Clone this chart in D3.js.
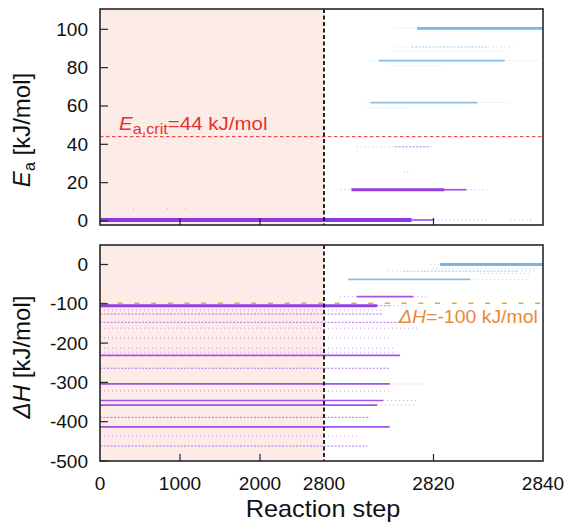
<!DOCTYPE html>
<html><head><meta charset="utf-8">
<script src="https://cdn.jsdelivr.net/npm/d3@7"></script>
<style>
body{margin:0;background:#fff}
text{font-family:"Liberation Sans",Arial,Helvetica,sans-serif}
</style>
</head><body><svg id="c" width="568" height="524"></svg>
<script>
// ---------------- data ----------------
const xBreaks = [0, 2800, 2840];            // broken x axis: 0..2800 compressed, 2800..2840 expanded
const xTicks = [0, 1000, 2000, 2800, 2820, 2840];
const xInnerTicks = [1000, 2000, 2820];
const eaTicks = [0, 20, 40, 60, 80, 100];
const dhTicks = [0, -100, -200, -300, -400, -500];
const eaCrit = 44;
const dhCrit = -100;
const shadeEnd = 2800;

// bands of reaction events: [level, startStep, endStep, density (0 sparse .. 4 very dense)]
const eaPurple = [
  [0.5, 0, 2816, 4], [0.5, 2816, 2820, 2], [0.5, 2820, 2830, 0], [0.5, 2834, 2838, 0],
  [16.3, 2803, 2805, 0], [16.3, 2805, 2822, 3], [16.3, 2822, 2826, 2], [16.3, 2826, 2830, 0],
  [25.7, 2814.5, 2815.8, 0],
  [38.7, 2806, 2813, 0], [38.7, 2813, 2819.5, 1]
];
const eaBlue = [
  [100.5, 2813, 2817, 0], [100.5, 2817, 2840, 3],
  [90.8, 2813, 2816, 0], [90.8, 2816, 2830, 1], [90.8, 2830, 2834.5, 0],
  [88.7, 2813, 2834, 0],
  [83.7, 2808.4, 2810, 0], [83.7, 2810, 2833, 2], [83.7, 2833, 2839.5, 0],
  [80.9, 2812, 2822, 0],
  [61.8, 2807.5, 2808.5, 0], [61.8, 2808.5, 2828, 2], [61.8, 2828, 2834, 0],
  [58.8, 2807.5, 2815, 0]
];
const eaDots = [[412, 6.3], [837, 6.6], [1062, 6.9]];

const dhPurple = [
  [-105, 0, 2809.7, 3], [-105, 2809.7, 2812, 1], [-105, 2812, 2815, 0],
  [-82, 2802.9, 2806, 0], [-82, 2806, 2816.3, 2], [-82, 2816.3, 2818.8, 0],
  [-116, 0, 2811, 0],
  [-126, 0, 2810.8, 1],
  [-147, 0, 2813.9, 1],
  [-162, 0, 2817, 0],
  [-187, 0, 2812, 0],
  [-213, 0, 2813, 0],
  [-223, 0, 2813, 0],
  [-231, 0, 2813.9, 2],
  [-264, 0, 2812, 1],
  [-304, 0, 2812, 2], [-304, 2812, 2818.1, 0],
  [-322, 0, 2812, 0],
  [-346, 0, 2810.8, 2], [-346, 2810.8, 2817.2, 0],
  [-358, 0, 2809.7, 2], [-358, 2809.7, 2817, 0],
  [-389, 0, 2808.4, 1],
  [-413, 0, 2812, 2],
  [-437, 0, 2806, 0],
  [-462, 0, 2807.9, 1]
];
const dhBlue = [
  [0, 2819.4, 2821.2, 0], [0, 2821.2, 2840, 3],
  [-11, 2819.9, 2840, 0],
  [-17, 2811.7, 2814.4, 0], [-17, 2814.4, 2835.3, 1], [-17, 2835.3, 2838.9, 0],
  [-24, 2828.5, 2837.6, 0],
  [-38, 2804.4, 2826.7, 2], [-38, 2826.7, 2837.6, 0]
];

// ---------------- layout ----------------
const svg = d3.select("#c");
const L = 100, R = 543;
const colors = {purple: "#8a2be2", blue: "#6aaee2", shade: "#fdebe8", frame: "#262626",
                red: "#e5332a", orangeLine: "#f2a33a", orangeText: "#e88a3a"};
const x = d3.scaleLinear().domain(xBreaks).range([L, 324, R]);

const panels = [
  {top: 9, bottom: 225, domain: [-2.1, 110.6], ticks: eaTicks, purple: eaPurple, blue: eaBlue, dots: eaDots},
  {top: 245, bottom: 461, domain: [-500, 49.6], ticks: dhTicks, purple: dhPurple, blue: dhBlue, dots: []}
];
panels.forEach(p => { p.y = d3.scaleLinear().domain(p.domain).range([p.bottom, p.top]); });

const densityStyle = [
  {w: 1, op: 0.45, dash: "1,3"},
  {w: 1, op: 0.65, dash: "2,1.5"},
  {w: 1.7, op: 0.8, dash: null},
  {w: 2.8, op: 0.9, dash: null},
  {w: 3.8, op: 0.95, dash: null}
];

panels.forEach((p, i) => {
  const g = svg.append("g");
  const clipId = "clip" + i;
  svg.append("clipPath").attr("id", clipId).append("rect")
    .attr("x", L).attr("y", p.top).attr("width", R - L).attr("height", p.bottom - p.top);
  // shaded region
  g.append("rect").attr("x", x(0)).attr("y", p.top)
    .attr("width", x(shadeEnd) - x(0)).attr("height", p.bottom - p.top).attr("fill", colors.shade);
  const data = g.append("g").attr("clip-path", `url(#${clipId})`);
  const drawBands = (bands, color) => {
    data.selectAll(null).data(bands).enter().append("line")
      .attr("x1", d => x(d[1])).attr("x2", d => x(d[2]))
      .attr("y1", d => p.y(d[0])).attr("y2", d => p.y(d[0]))
      .attr("stroke", color)
      .attr("stroke-width", d => densityStyle[d[3]].w)
      .attr("stroke-opacity", d => densityStyle[d[3]].op)
      .attr("stroke-dasharray", d => densityStyle[d[3]].dash);
  };
  if (i === 0) {
    data.append("line").attr("x1", L).attr("x2", R).attr("y1", p.y(eaCrit)).attr("y2", p.y(eaCrit))
      .attr("stroke", colors.red).attr("stroke-width", 1).attr("stroke-dasharray", "3.5,2.5");
  }
  drawBands(p.blue, colors.blue);
  drawBands(p.purple, colors.purple);
  if (i === 1) {
    data.append("line").attr("x1", L + 1).attr("x2", R).attr("y1", p.y(dhCrit) - 0.5).attr("y2", p.y(dhCrit) - 0.5)
      .attr("stroke", colors.orangeLine).attr("stroke-width", 1.6).attr("stroke-dasharray", "5,11.7");
  }
  data.selectAll(null).data(p.dots).enter().append("rect")
    .attr("x", d => x(d[0])).attr("y", d => p.y(d[1])).attr("width", 1).attr("height", 1)
    .attr("fill", "#b9a8d8");
  // vertical dashed break line
  g.append("line").attr("x1", x(shadeEnd)).attr("x2", x(shadeEnd)).attr("y1", p.top).attr("y2", p.bottom)
    .attr("stroke", "#111").attr("stroke-width", 1.8).attr("stroke-dasharray", "4,2.5");
  // y axis ticks (inward)
  g.selectAll(null).data(p.ticks).enter().append("line")
    .attr("x1", L).attr("x2", L + 8).attr("y1", d => p.y(d)).attr("y2", d => p.y(d))
    .attr("stroke", colors.frame).attr("stroke-width", 1.2);
  g.selectAll(null).data(p.ticks).enter().append("text")
    .attr("x", 88).attr("y", d => p.y(d) + 6.5).attr("text-anchor", "end")
    .attr("font-size", 19).attr("fill", "#111").text(d => d);
  // x inner ticks
  g.selectAll(null).data(xInnerTicks).enter().append("line")
    .attr("x1", d => x(d)).attr("x2", d => x(d)).attr("y1", p.bottom).attr("y2", p.bottom - 7)
    .attr("stroke", colors.frame).attr("stroke-width", 1.2);
  // frame
  g.append("rect").attr("x", L).attr("y", p.top).attr("width", R - L).attr("height", p.bottom - p.top)
    .attr("fill", "none").attr("stroke", colors.frame).attr("stroke-width", 1.6);
});

// x tick labels
svg.selectAll(null).data(xTicks).enter().append("text")
  .attr("x", d => x(d)).attr("y", 490).attr("text-anchor", "middle")
  .attr("font-size", 19).attr("fill", "#111").text(d => d);

// axis titles
svg.append("text").attr("transform", "translate(323,517) scale(1.1,1)").attr("text-anchor", "middle")
  .attr("font-size", 23).attr("fill", "#111").text("Reaction step");

const yt1 = svg.append("text").attr("transform", "translate(30,130) rotate(-90)")
  .attr("text-anchor", "middle").attr("font-size", 24).attr("fill", "#111");
yt1.append("tspan").attr("font-style", "italic").text("E");
yt1.append("tspan").attr("font-size", 16).attr("dy", 5).text("a");
yt1.append("tspan").attr("dy", -5).text(" [kJ/mol]");

const yt2 = svg.append("text").attr("transform", "translate(30,357) rotate(-90)")
  .attr("text-anchor", "middle").attr("font-size", 24).attr("fill", "#111");
yt2.append("tspan").attr("font-style", "italic").text("ΔH");
yt2.append("tspan").text(" [kJ/mol]");

// annotations
const a1 = svg.append("text").attr("transform", "translate(119,130) scale(1.08,1)")
  .attr("font-size", 19).attr("fill", colors.red);
a1.append("tspan").attr("font-style", "italic").text("E");
a1.append("tspan").attr("font-size", 15).attr("dy", 4).text("a,crit");
a1.append("tspan").attr("dy", -4).text("=" + eaCrit + " kJ/mol");

const a2 = svg.append("text").attr("transform", "translate(399,323) scale(1.08,1)")
  .attr("font-size", 18).attr("fill", colors.orangeText);
a2.append("tspan").attr("font-style", "italic").text("ΔH");
a2.append("tspan").text("=" + dhCrit + " kJ/mol");
</script>
</body></html>
